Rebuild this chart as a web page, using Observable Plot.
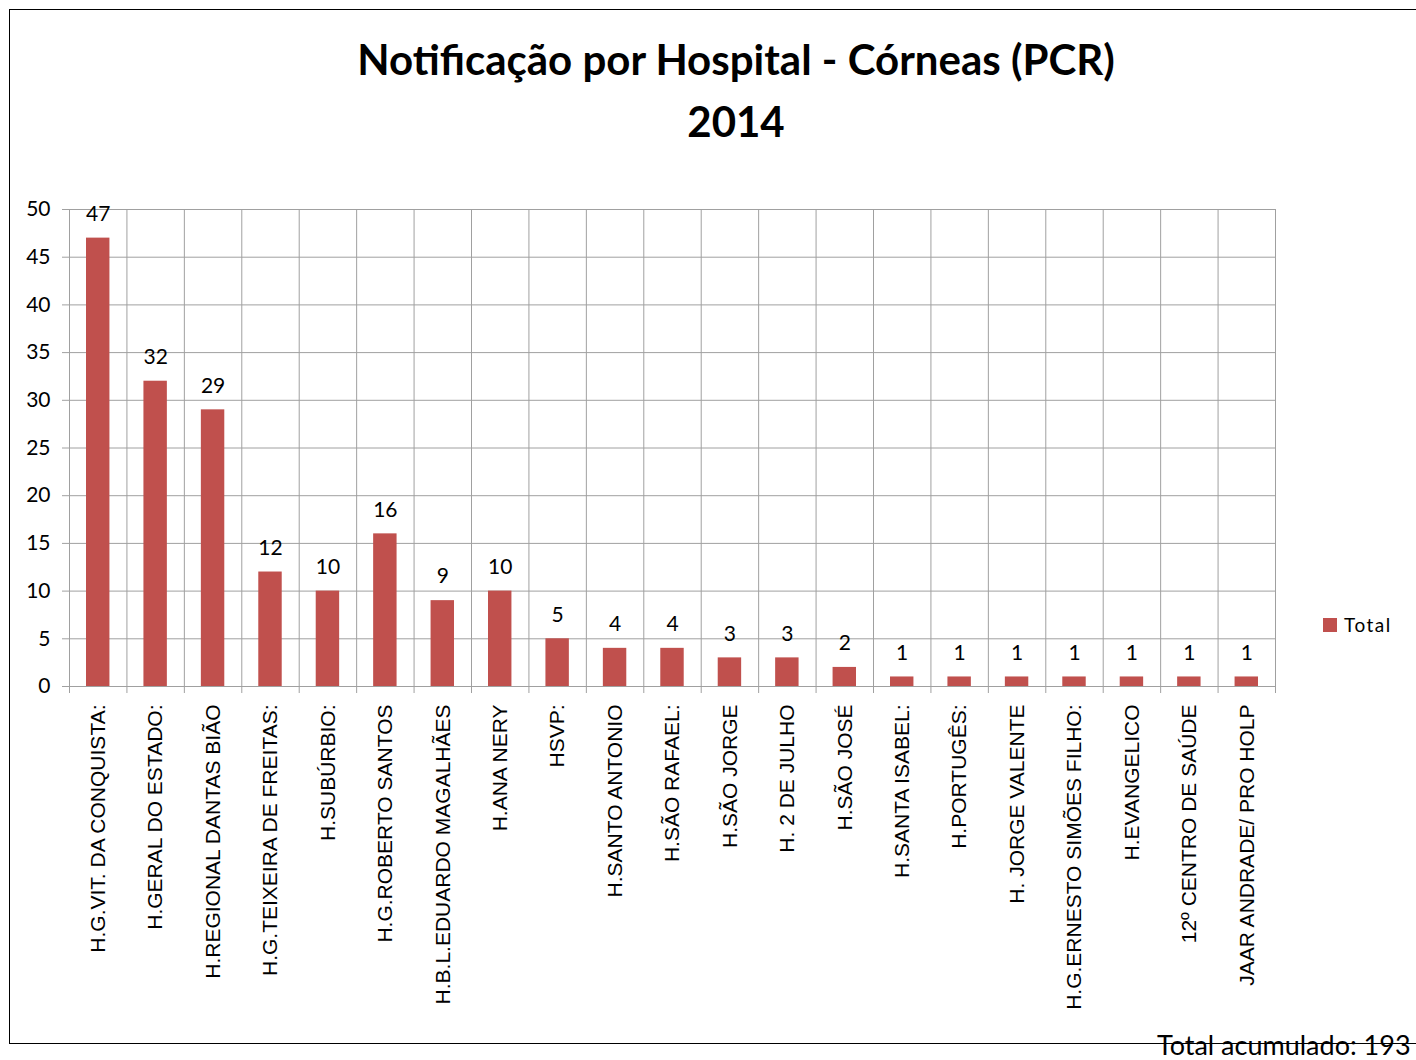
<!DOCTYPE html>
<html>
<head>
<meta charset="utf-8">
<script src="https://cdn.jsdelivr.net/npm/d3@7"></script>
<script src="https://cdn.jsdelivr.net/npm/@observablehq/plot@0.6"></script>
<style>
  html, body { margin: 0; padding: 0; background: #fff; overflow: hidden; }
  #wrap { position: relative; width: 1416px; height: 1060px; }
  #frame { position: absolute; left: 9px; top: 9px; width: 1420px; height: 1035px; border: 1px solid #000; box-sizing: border-box; }
  #title { position: absolute; left: 0; width: 1472px; top: 28px; text-align: center; font-family: Lato, "Open Sans", sans-serif; font-weight: bold; font-size: 42px; line-height: 62px; color: #000; }
  #legend { position: absolute; left: 1323px; top: 613px; font-family: Lato, sans-serif; font-size: 19px; letter-spacing: 1.5px; color: #000; display: flex; align-items: center; }
  #legend .sw { width: 14px; height: 14px; background: #c0504d; margin-right: 7px; }
  #caption { position: absolute; left: 1157px; top: 1028px; font-family: Lato, sans-serif; font-size: 27px; color: #000; white-space: nowrap; }
  #chart { position: absolute; left: 0; top: 0; }
</style>
</head>
<body>
<div id="wrap">
  <div id="frame"></div>
  <div id="chart"></div>
  <div id="title">Notificação por Hospital - Córneas (PCR)<br>2014</div>
  <div id="legend"><div class="sw"></div><span>Total</span></div>
  <div id="caption">Total acumulado: 193</div>
</div>
<script>
const hospitals = [
  "H.G.VIT. DA CONQUISTA:", "H.GERAL DO ESTADO:", "H.REGIONAL DANTAS BIÃO",
  "H.G.TEIXEIRA DE FREITAS:", "H.SUBÚRBIO:", "H.G.ROBERTO SANTOS",
  "H.B.L.EDUARDO MAGALHÃES", "H.ANA NERY", "HSVP:", "H.SANTO ANTONIO",
  "H.SÃO RAFAEL:", "H.SÃO JORGE", "H. 2 DE JULHO", "H.SÃO JOSÉ",
  "H.SANTA ISABEL:", "H.PORTUGÊS:", "H. JORGE VALENTE",
  "H.G.ERNESTO SIMÕES FILHO:", "H.EVANGELICO", "12º CENTRO DE SAÚDE",
  "JAAR ANDRADE/ PRO HOLP"
];
const totals = [47, 32, 29, 12, 10, 16, 9, 10, 5, 4, 4, 3, 3, 2, 1, 1, 1, 1, 1, 1, 1];
const yTicks = [0, 5, 10, 15, 20, 25, 30, 35, 40, 45, 50];

const data = hospitals.map((name, i) => ({i, name, value: totals[i]}));
const n = hospitals.length;
const grid = "#a0a0a0";
const barColor = "#c0504d";

const chart = Plot.plot({
  width: 1416,
  height: 1060,
  marginLeft: 69,
  marginRight: 141,
  marginTop: 209,
  marginBottom: 374,
  style: {fontFamily: "Lato, sans-serif", background: "transparent"},
  x: {domain: [0, n]},
  y: {domain: [0, 50]},
  marks: [
    Plot.ruleY(yTicks, {stroke: grid, strokeWidth: 1}),
    Plot.ruleX(d3.range(n + 1), {stroke: grid, strokeWidth: 1}),
    Plot.rectY(data, {x1: "i", x2: d => d.i + 1, y: "value", fill: barColor, insetLeft: 17, insetRight: 17}),
    Plot.text(data, {x: d => d.i + 0.5, y: "value", text: d => String(d.value), dy: -24, fontSize: 21, fill: "#000"}),
    Plot.axisY({ticks: yTicks, tickSize: 7, tickPadding: 12, stroke: grid, fill: "#000", fontSize: 21, label: null}),
    Plot.axisX({ticks: d3.range(n + 1), tickSize: 7, tickFormat: () => "", stroke: grid, label: null}),
    Plot.axisX({ticks: d3.range(n).map(i => i + 0.5), tickSize: 0, tickPadding: 18, tickRotate: -90,
      tickFormat: v => hospitals[Math.floor(v)], fill: "#000", fontSize: 21,
      fontFamily: "'Liberation Sans Narrow', 'Liberation Sans', sans-serif", label: null})
  ]
});
document.getElementById("chart").appendChild(chart);
</script>
</body>
</html>
